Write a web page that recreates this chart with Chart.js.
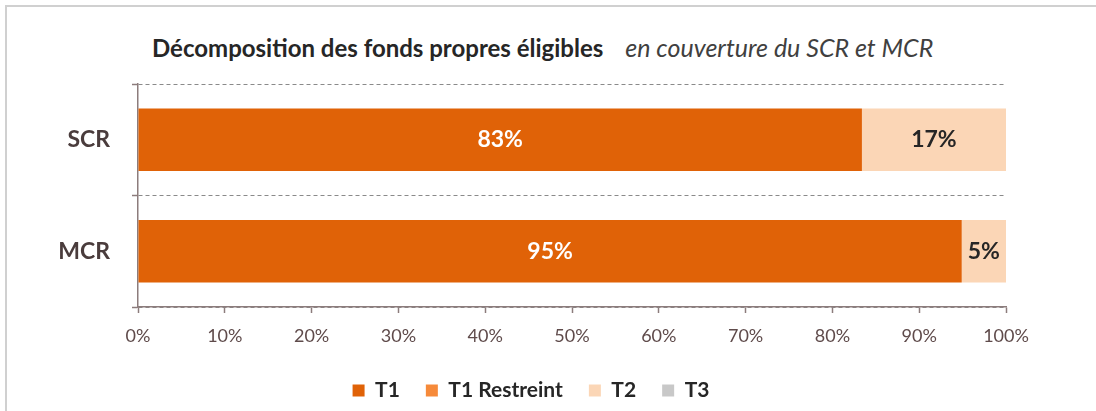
<!DOCTYPE html>
<html lang="fr">
<head>
    <meta charset="UTF-8">
    <title>Décomposition des fonds propres éligibles</title>
    <script src="https://cdn.jsdelivr.net/npm/chart.js"></script>
    <style>
        body { margin: 0; background: #fff; }
        .frame {
            position: absolute; left: 5px; top: 5px;
            width: 1200px; height: 500px;
            border-left: 2px solid #d0d0d0; border-top: 2px solid #d0d0d0;
        }
        .title {
            position: absolute; left: 152px; top: 32px;
            font-family: Lato, "Open Sans", sans-serif; font-size: 24px;
            color: #262626; white-space: nowrap;
        }
        .title b { font-weight: 700; }
        .title i { font-weight: 400; font-size: 25px; color: #404040; margin-left: 22px; }
        .chart-box { position: absolute; left: 0; top: 0; width: 1096px; height: 411px; }
    </style>
</head>
<body>
    <div class="frame"></div>
    <div class="title"><b>Décomposition des fonds propres éligibles</b><i>en couverture du SCR et MCR</i></div>
    <div class="chart-box"><canvas id="fpChart"></canvas></div>

    <script>
        // Data
        const categories = ['SCR', 'MCR'];
        const seriesNames = ['T1', 'T1 Restreint', 'T2', 'T3'];
        const t1 = [83.4, 94.9];
        const t1Restreint = [0, 0];
        const t2 = [16.6, 5.1];
        const t3 = [0, 0];
        const xTicks = [0, 10, 20, 30, 40, 50, 60, 70, 80, 90, 100];

        const colors = ['#e06207', '#f68a3a', '#fbd6b6', '#c8c8c8'];
        const labelColors = ['#ffffff', '#ffffff', '#262626', '#262626'];
        const fontFamily = 'Lato, "Open Sans", sans-serif';

        // Draw the percentage labels inside the bar segments
        const barLabels = {
            id: 'barLabels',
            afterDatasetsDraw(chart) {
                const ctx = chart.ctx;
                ctx.save();
                ctx.textAlign = 'center';
                ctx.textBaseline = 'middle';
                ctx.font = 'bold 23px ' + fontFamily;
                chart.data.datasets.forEach((ds, i) => {
                    const meta = chart.getDatasetMeta(i);
                    meta.data.forEach((bar, j) => {
                        const v = ds.data[j];
                        if (!v) return;
                        ctx.fillStyle = labelColors[i];
                        ctx.fillText(Math.round(v) + '%', (bar.x + bar.base) / 2, bar.y);
                    });
                });
                ctx.restore();
            }
        };

        const seriesData = [t1, t1Restreint, t2, t3];

        new Chart(document.getElementById('fpChart'), {
            type: 'bar',
            data: {
                labels: categories,
                datasets: seriesNames.map((name, i) => ({
                    label: name,
                    data: seriesData[i],
                    backgroundColor: colors[i],
                    barPercentage: 0.56,
                    categoryPercentage: 1
                }))
            },
            options: {
                indexAxis: 'y',
                responsive: true,
                maintainAspectRatio: false,
                animation: false,
                layout: { padding: { top: 84, right: 90, left: 56, bottom: 0 } },
                plugins: {
                    tooltip: { enabled: false },
                    legend: {
                        position: 'bottom',
                        labels: {
                            boxWidth: 12,
                            boxHeight: 12,
                            padding: 26,
                            color: '#262626',
                            font: { family: fontFamily, size: 21, weight: 'bold' }
                        }
                    }
                },
                scales: {
                    x: {
                        stacked: true,
                        min: 0,
                        max: 100,
                        afterBuildTicks: (scale) => {
                            scale.ticks = xTicks.map(v => ({ value: v }));
                        },
                        afterFit: (scale) => { scale.height = 47; },
                        grid: {
                            drawOnChartArea: false,
                            drawTicks: true,
                            tickLength: 6,
                            tickColor: '#8c7c7c',
                            tickWidth: 1.5
                        },
                        border: { color: '#8c7c7c', width: 1.5 },
                        ticks: {
                            padding: 12,
                            color: '#5f4b4b',
                            font: { family: fontFamily, size: 18 },
                            callback: (v) => v + '%'
                        }
                    },
                    y: {
                        stacked: true,
                        afterFit: (scale) => { scale.width = 82; },
                        grid: {
                            offset: true,
                            color: '#8a8a8a',
                            lineWidth: 1,
                            drawTicks: true,
                            tickLength: 6,
                            tickColor: '#8c7c7c',
                            tickWidth: 1.5
                        },
                        border: { color: '#8c7c7c', width: 1.5, dash: [4, 3] },
                        ticks: {
                            padding: 22,
                            color: '#4a3c3c',
                            font: { family: fontFamily, size: 23, weight: 'bold' }
                        }
                    }
                }
            },
            plugins: [barLabels]
        });
    </script>
</body>
</html>
